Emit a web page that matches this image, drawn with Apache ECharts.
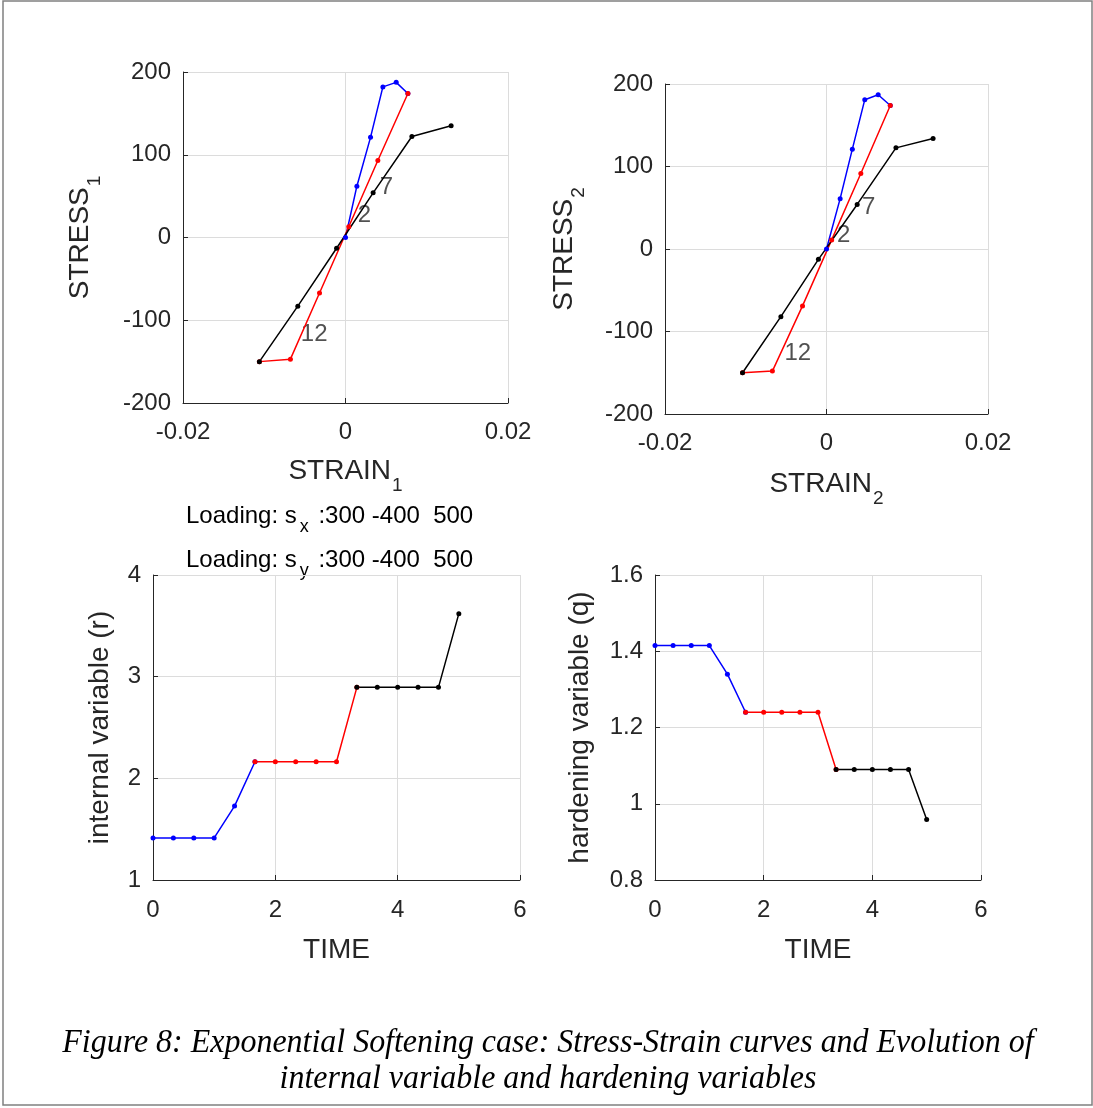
<!DOCTYPE html>
<html>
<head>
<meta charset="utf-8">
<script src="https://cdn.jsdelivr.net/npm/echarts@6/dist/echarts.min.js"></script>
<style>
html,body{margin:0;padding:0;background:#fff;}
#chart{width:1093px;height:1108px;}
</style>
</head>
<body>
<div id="chart"></div>
<script>
// ---------- DATA ----------
// Stress-strain, component 1
const strainBlue1 = [0, 0.0014, 0.00308, 0.0046, 0.00624, 0.00768];
const stressBlue1 = [0, 62, 121, 182, 187.5, 174];
const strainRed1 = [0.00768, 0.00398, 0.0004, -0.0032, -0.00678, -0.0106];
const stressRed1 = [174, 93, 13, -67, -147, -150];
const strainBlack1 = [-0.0106, -0.00587, -0.0011, 0.0034, 0.00817, 0.013];
const stressBlack1 = [-150, -83, -13, 54, 122, 135];
const labelText1 = ['2', '7', '12'];
const labelStrain1 = [0.0015, 0.0042, -0.0055];
const labelStress1 = [27, 60, -117];

// Stress-strain, component 2
const strainBlue2 = [0, 0.00169, 0.0032, 0.00474, 0.0064, 0.0079];
const stressBlue2 = [0, 61, 121, 181, 187, 174];
const strainRed2 = [0.0079, 0.00425, 0.00064, -0.00297, -0.0067, -0.0104];
const stressRed2 = [174, 91.5, 11, -69, -148, -150];
const strainBlack2 = [-0.0104, -0.00565, -0.001, 0.0038, 0.0086, 0.0132];
const stressBlack2 = [-150, -82, -12.5, 54, 122.6, 134];
const labelText2 = ['2', '7', '12'];
const labelStrain2 = [0.0013, 0.0044, -0.0052];
const labelStress2 = [16, 50, -127];

// Time evolution
const timeBlue = [0, 0.333, 0.667, 1, 1.333, 1.667];
const timeRed = [1.667, 2, 2.333, 2.667, 3, 3.333];
const timeBlack = [3.333, 3.667, 4, 4.333, 4.667, 5];
const rBlue = [1.414, 1.414, 1.414, 1.414, 1.727, 2.163];
const rRed = [2.163, 2.163, 2.163, 2.163, 2.163, 2.895];
const rBlack = [2.895, 2.895, 2.895, 2.895, 2.895, 3.62];
const qBlue = [1.415, 1.415, 1.415, 1.415, 1.34, 1.24];
const qRed = [1.24, 1.24, 1.24, 1.24, 1.24, 1.09];
const qBlack = [1.09, 1.09, 1.09, 1.09, 1.09, 0.959];

// Axis tick settings
const strainTicks = {min: -0.02, max: 0.02, interval: 0.02};
const stressTicks = {min: -200, max: 200, interval: 100};
const timeTicks = {min: 0, max: 6, interval: 2};
const rTicks = {min: 1, max: 4, interval: 1};
const qTicks = {min: 0.8, max: 1.6, interval: 0.2};

const loadingX = ['300', '-400', '500'];
const loadingY = ['300', '-400', '500'];

// ---------- STYLE / BUILD ----------
const SANS = '"Liberation Sans", Arial, sans-serif';
const TXT = '#262626';
const pairs = (xs, ys) => xs.map((x, i) => [x, ys[i]]);

function richName(main, sub) {
  return sub ? '{a|' + main + '}{s|' + sub + '}' : '{a|' + main + '}';
}
const nameStyle = {
  fontSize: 28, color: TXT, fontFamily: SANS,
  rich: {
    a: {fontSize: 28, lineHeight: 30, color: TXT, fontFamily: SANS, verticalAlign: 'top'},
    s: {fontSize: 19, lineHeight: 19, color: TXT, fontFamily: SANS, verticalAlign: 'top', padding: [19, 0, 0, 1]}
  }
};

function axis(gridIndex, ticks, name, sub, nameGap, labelMargin) {
  return Object.assign({
    type: 'value', gridIndex: gridIndex,
    name: richName(name, sub), nameLocation: 'middle', nameGap: nameGap,
    nameTextStyle: nameStyle,
    axisLine: {show: true, onZero: false, lineStyle: {color: TXT, width: 1}},
    axisTick: {show: true, inside: true, length: 5, lineStyle: {color: TXT}},
    splitLine: {show: true, lineStyle: {color: '#dcdcdc', width: 1}},
    axisLabel: {color: TXT, fontSize: 24, fontFamily: SANS, margin: labelMargin, showMinLabel: true, showMaxLabel: true}
  }, ticks);
}

function line(xi, yi, xs, ys, color) {
  return {
    type: 'line', xAxisIndex: xi, yAxisIndex: yi,
    data: pairs(xs, ys),
    symbol: 'circle', symbolSize: 5, showSymbol: true,
    itemStyle: {color: color},
    lineStyle: {color: color, width: 1.5},
    animation: false, silent: true
  };
}

function labels(xi, yi, texts, xs, ys) {
  return {
    type: 'scatter', xAxisIndex: xi, yAxisIndex: yi,
    symbolSize: 0,
    data: texts.map((t, i) => ({name: t, value: [xs[i], ys[i]]})),
    label: {show: true, position: 'right', distance: 0, formatter: p => p.name,
            color: TXT, fontSize: 24, fontFamily: SANS},
    animation: false, silent: true
  };
}

const series = [
  line(0, 0, strainBlue1, stressBlue1, '#0000ff'),
  line(0, 0, strainRed1, stressRed1, '#ff0000'),
  line(0, 0, strainBlack1, stressBlack1, '#000000'),
  labels(0, 0, labelText1, labelStrain1, labelStress1),
  line(1, 1, strainBlue2, stressBlue2, '#0000ff'),
  line(1, 1, strainRed2, stressRed2, '#ff0000'),
  line(1, 1, strainBlack2, stressBlack2, '#000000'),
  labels(1, 1, labelText2, labelStrain2, labelStress2),
  line(2, 2, timeBlue, rBlue, '#0000ff'),
  line(2, 2, timeRed, rRed, '#ff0000'),
  line(2, 2, timeBlack, rBlack, '#000000'),
  line(3, 3, timeBlue, qBlue, '#0000ff'),
  line(3, 3, timeRed, qRed, '#ff0000'),
  line(3, 3, timeBlack, qBlack, '#000000')
];

function loadingText(comp, vals) {
  return '{m|Loading: s}{s|' + comp + '}{m| :' + vals[0] + ' ' + vals[1] + '  ' + vals[2] + '}';
}
const loadRich = {
  m: {fontSize: 24, lineHeight: 25, color: '#000', fontFamily: SANS, verticalAlign: 'top'},
  s: {fontSize: 18, lineHeight: 18, color: '#000', fontFamily: SANS, verticalAlign: 'top', padding: [14, 3, 0, 3]}
};

const option = {
  backgroundColor: '#ffffff',
  animation: false,
  grid: [
    {left: 183, top: 72, width: 325, height: 331},
    {left: 665, top: 84, width: 323, height: 330},
    {left: 153, top: 575, width: 367, height: 305},
    {left: 655, top: 575, width: 326, height: 305}
  ],
  xAxis: [
    axis(0, strainTicks, 'STRAIN', '1', 54, 17),
    axis(1, strainTicks, 'STRAIN', '2', 56, 17),
    axis(2, timeTicks, 'TIME', null, 56, 18),
    axis(3, timeTicks, 'TIME', null, 56, 18)
  ],
  yAxis: [
    axis(0, stressTicks, 'STRESS', '1', 87, 12),
    axis(1, stressTicks, 'STRESS', '2', 85, 12),
    axis(2, rTicks, 'internal variable (r)', null, 37, 12),
    axis(3, qTicks, 'hardening variable (q)', null, 59, 12)
  ],
  series: series,
  graphic: [
    {type: 'rect', shape: {x: 3, y: 1, width: 1089, height: 1104},
     style: {fill: 'none', stroke: '#808080', lineWidth: 1.5}, silent: true, z: 100},
    {type: 'text', left: 186, top: 504,
     style: {text: loadingText('x', loadingX), rich: loadRich}, silent: true},
    {type: 'text', left: 186, top: 548,
     style: {text: loadingText('y', loadingY), rich: loadRich}, silent: true},
    {type: 'text', x: 548, y: 1061, scaleX: 0.94,
     style: {text: 'Figure 8: Exponential Softening case: Stress-Strain curves and Evolution of\ninternal variable and hardening variables',
             font: 'italic 34px "Liberation Serif", "Times New Roman", serif',
             fill: '#000', align: 'center', verticalAlign: 'middle', lineHeight: 36},
     silent: true}
  ]
};

const chart = echarts.init(document.getElementById('chart'), null, {renderer: 'canvas'});
chart.setOption(option);
</script>
</body>
</html>
